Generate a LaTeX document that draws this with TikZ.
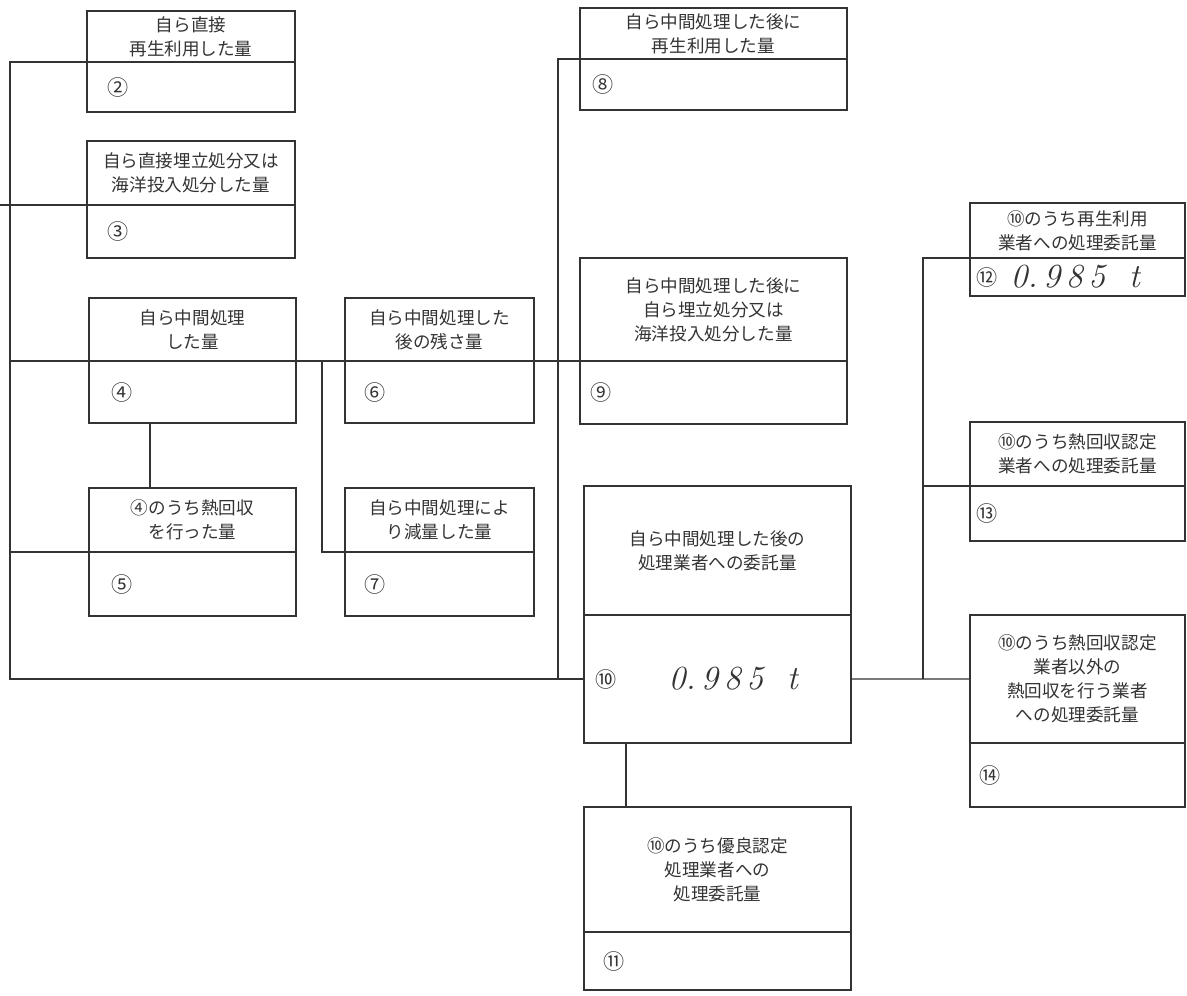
\documentclass[tikz,border=0pt]{standalone}
\usepackage{fontspec}
\usepackage{tikz}
\usetikzlibrary{calc}
\newfontfamily\cjk{Noto Sans CJK JP}
\def\px{0.025cm}
\tikzstyle{head}=[draw,anchor=north west,inner sep=0pt,outer sep=0pt,align=center,font=\cjk\fontsize{12.5}{17}\selectfont]
\tikzstyle{amount}=[draw,anchor=north west,inner sep=0pt,outer sep=0pt]
\tikzstyle{num}=[anchor=west,inner sep=0pt,font=\cjk\fontsize{15}{15}\selectfont]
\tikzstyle{hand}=[anchor=west,inner sep=0pt,font=\fontsize{24}{24}\selectfont\itshape]
\newcommand{\newBox}[9]{%
  \node[head,minimum width=#4*\px,minimum height=#5*\px](#1) at (#2,#3) {#8};
  \node[amount,minimum width=#4*\px,minimum height=#6*\px](#1v) at (#1.south west) {};
  \node[num](#1n) at ($(#1v.west)+(#7,0)$) {#9};}

\begin{document}
\begin{tikzpicture}[x=\px,y=-\px,line width=0.9pt,color=black!80]
  \useasboundingbox (0,0) rectangle (1187,995);
  \newBox{b2}{87}{11}{208}{51}{50}{20}{自ら直接\\再生利用した量}{②}
  \newBox{b3}{87}{141}{208}{64}{53}{20}{自ら直接埋立処分又は\\海洋投入処分した量}{③}
  \newBox{b4}{89}{298}{207}{63}{62}{22}{自ら中間処理\\した量}{④}
  \newBox{b5}{89}{488}{207}{64}{64}{22}{④のうち熱回収\\を行った量}{⑤}
  \newBox{b6}{345}{298}{189}{63}{62}{19}{自ら中間処理した\\後の残さ量}{⑥}
  \newBox{b7}{345}{488}{189}{64}{64}{19}{自ら中間処理によ\\り減量した量}{⑦}
  \newBox{b8}{580}{8}{267}{51}{51}{12}{自ら中間処理した後に\\再生利用した量}{⑧}
  \newBox{b9}{580}{258}{267}{103}{63}{10}{自ら中間処理した後に\\自ら埋立処分又は\\海洋投入処分した量}{⑨}
  \newBox{b10}{584}{486}{267}{129}{128}{11}{自ら中間処理した後の\\処理業者への委託量}{⑩}
  \newBox{b11}{584}{807}{267}{125}{58}{19}{⑩のうち優良認定\\処理業者への\\処理委託量}{⑪}
  \newBox{b12}{970}{203}{215}{55}{38}{6}{⑩のうち再生利用\\業者への処理委託量}{⑫}
  \newBox{b13}{970}{422}{215}{64}{55}{6}{⑩のうち熱回収認定\\業者への処理委託量}{⑬}
  \newBox{b14}{970}{615}{215}{128}{64}{9}{⑩のうち熱回収認定\\業者以外の\\熱回収を行う業者\\への処理委託量}{⑭}
  \coordinate (edge) at (0,0);
  \coordinate (L) at (10,0);
  \coordinate (M) at (322,0);
  \coordinate (C) at (558,0);
  \coordinate (R) at (923,0);
  \coordinate (k4) at ($(b4v.south west)+(61,0)$);
  \coordinate (k10) at ($(b10v.south west)+(42,0)$);
  \draw (b2.south west) -| (L |- b10v.west) -- (b10v.west);
  \draw (edge |- b3.south west) -- (b3.south west);
  \draw (L |- b4.south west) -- (b4.south west);
  \draw (b4.south east) -- (b6.south west);
  \draw (b6.south east) -- (b9.south west);
  \draw (L |- b5.south west) -- (b5.south west);
  \draw (k4) -- (k4 |- b5.north);
  \draw (M |- b6.south west) |- (b7.south west);
  \draw (b8.south west) -| (C |- b10v.west);
  \draw (k10) -- (k10 |- b11.north);
  \draw (b10v.east) -- (b14.west);
  \draw (b12.south west) -| (R |- b14.west);
  \draw (R |- b13.south west) -- (b13.south west);
  \node[hand](v10) at ($(b10v.west)+(84,0)$) {0.\,9\,8\,5\ \ t};
  \node[hand](v12) at ($(b12v.west)+(40,0)$) {0.\,9\,8\,5\ \ t};
\end{tikzpicture}
\end{document}
